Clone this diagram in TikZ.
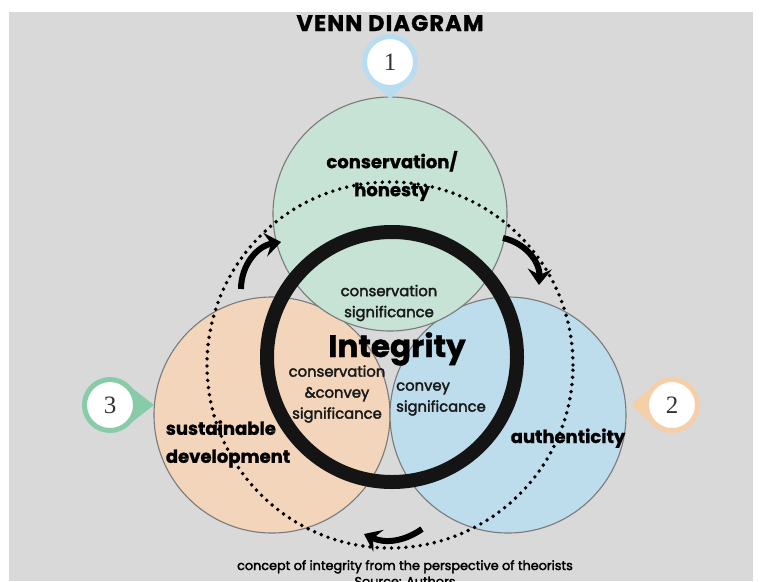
\documentclass[tikz,border=0pt]{standalone}
\usepackage{fontspec}
\setmainfont{Poppins}[BoldFeatures={FakeBold=1.2}]
\newfontfamily\digitfont{Liberation Serif}
\newfontfamily\mediumfont{Poppins}[FakeBold=2.4]
\usetikzlibrary{arrows.meta,calc}

\definecolor{bggray}{HTML}{D9D9D9}
\definecolor{consgreen}{HTML}{C6E3D5}
\definecolor{sustorange}{HTML}{F2D5BA}
\definecolor{authblue}{HTML}{BDDCEC}
\definecolor{edgegray}{HTML}{7A7A7A}
\definecolor{pinblue}{HTML}{B8DDF0}
\definecolor{pingreen}{HTML}{88CBA8}
\definecolor{pinpeach}{HTML}{F4CFA8}

\tikzset{
    vennset/.style={circle, draw=edgegray, line width=1.1pt, inner sep=0pt, minimum size=#1},
    setname/.style={align=center, inner sep=0pt, font=\bfseries\fontsize{18}{28}\selectfont, text=black},
    overlapnote/.style={align=center, inner sep=0pt, font=\mediumfont\fontsize{14.8}{21}\selectfont, text=black!90},
    pinmark/.style={circle, fill=white, draw=#1, line width=5pt, minimum size=51pt, inner sep=0pt, font=\digitfont\fontsize{25}{25}\selectfont, text=black!80},
    turnarrow/.style={line width=6pt, -{Stealth[length=16pt,width=24pt,inset=6pt]}},
    orbitdots/.style={circle, draw=black, line width=3.9pt, dash pattern=on 0pt off 7.2pt, line cap=round, inner sep=0pt, minimum size=366pt}
}

\begin{document}
\begin{tikzpicture}[x=1pt, y=-1pt]
    \useasboundingbox (0,0) rectangle (762,581);
    \fill[bggray] (9,12) rectangle (753,581);

    \node[anchor=base, font=\bfseries\fontsize{22.5}{24}\selectfont\addfontfeature{LetterSpace=5}] (title) at (390,31) {VENN DIAGRAM};

    % the three sets
    \node[vennset=236pt, fill=sustorange] (sust) at (272,415) {};
    \node[vennset=236pt, fill=authblue] (auth) at (508,415) {};
    \node[vennset=234pt, fill=consgreen] (cons) at (390,214) {};

    % dotted cycle and its arrows
    \node[orbitdots] (orbit) at (390,365) {};
    \coordinate (turn1a) at (241,289);
    \coordinate (turn1b) at (281,242);
    \coordinate (turn2a) at (503,238);
    \coordinate (turn2b) at (539,285);
    \coordinate (turn3a) at (422,529);
    \coordinate (turn3b) at (364,534);
    \draw[turnarrow] (turn1a) to[bend left=40] (turn1b);
    \draw[turnarrow] (turn2a) to[bend left=40] (turn2b);
    \draw[turnarrow] (turn3a) to[bend left=30] (turn3b);

    % integrity ring
    \node[circle, draw=black!92, line width=14pt, minimum size=250pt, inner sep=0pt] (ring) at (392,357) {};

    % labels
    \node[setname] (consname) at (392,176) {conservation/\\honesty};
    \node[setname, align=left] (sustname) at (228,444) {sustainable\\development};
    \node[setname, anchor=base] (authname) at (568,443) {authenticity};
    \node[overlapnote] (conssig) at (389,303) {conservation\\significance};
    \node[overlapnote] (bothsig) at (337,394) {conservation\\\&convey\\significance};
    \node[overlapnote, align=left, anchor=west] (convsig) at (396,399) {convey\\significance};
    \node[anchor=base, font=\bfseries\fontsize{31}{31}\selectfont] (integ) at (397,357) {Integrity};

    % markers
    \coordinate (pin1c) at (390,62);
    \coordinate (pin1tip) at (390,99);
    \fill[pinblue] (pin1tip) -- ($(pin1c)!27pt!50:(pin1tip)$) -- ($(pin1c)!27pt!-50:(pin1tip)$) -- cycle;
    \node[pinmark=pinblue] (pin1) at (pin1c) {1};

    \coordinate (pin2c) at (672,405);
    \coordinate (pin2tip) at (631,405);
    \fill[pinpeach] (pin2tip) -- ($(pin2c)!27pt!50:(pin2tip)$) -- ($(pin2c)!27pt!-50:(pin2tip)$) -- cycle;
    \node[pinmark=pinpeach] (pin2) at (pin2c) {2};

    \coordinate (pin3c) at (110,405);
    \coordinate (pin3tip) at (154,405);
    \fill[pingreen] (pin3tip) -- ($(pin3c)!27pt!50:(pin3tip)$) -- ($(pin3c)!27pt!-50:(pin3tip)$) -- cycle;
    \node[pinmark=pingreen] (pin3) at (pin3c) {3};

    % caption
    \node[anchor=base, font=\mediumfont\fontsize{12.8}{14}\selectfont] (caption) at (405,570) {concept of integrity from the perspective of theorists};
    \node[anchor=base, font=\mediumfont\fontsize{12.8}{14}\selectfont] (source) at (405,586) {Source: Authors};
\end{tikzpicture}
\end{document}
